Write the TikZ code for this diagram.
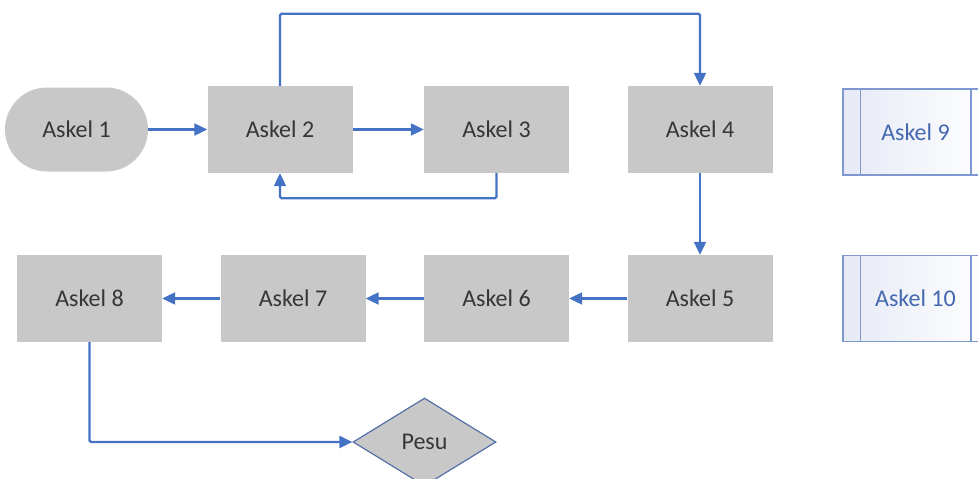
\documentclass[tikz,border=0pt]{standalone}
\usepackage{fontspec}
\setmainfont{Carlito}
\usetikzlibrary{arrows.meta,shapes.geometric}
\definecolor{boxgray}{HTML}{C8C8C8}
\definecolor{linkblue}{HTML}{4472C4}
\definecolor{txtgray}{HTML}{363636}
\definecolor{ppborder}{HTML}{7F98CF}
\definecolor{pptext}{HTML}{4468B0}
\definecolor{ppshade}{HTML}{E6EAF6}
\definecolor{dmborder}{HTML}{5470A8}
\tikzset{
  txtfont/.style={font=\fontsize{24}{28}\selectfont},
  stepbox/.style={rectangle, fill=boxgray, minimum width=145pt, minimum height=87pt, inner sep=0pt,
    text=txtgray, txtfont},
  startbox/.style={stepbox, minimum width=143pt, minimum height=84pt, rounded corners=42pt},
  ppbox/.style={rectangle, draw=ppborder, line width=1.5pt, shading=axis, shading angle=-60,
    left color=ppshade, right color=white,
    minimum width=145pt, minimum height=86pt, inner sep=0pt, text=pptext, txtfont},
  decision/.style={diamond, aspect=1.62, fill=boxgray, draw=dmborder, line width=1.2pt,
    minimum width=143pt, minimum height=88pt, inner sep=0pt, text=txtgray, txtfont},
  link/.style={draw=linkblue, line width=2.2pt, rounded corners=1.5pt,
    -{Triangle[length=13pt,width=12pt]}},
}
\begin{document}
\begin{tikzpicture}[x=1pt,y=-1pt]
\useasboundingbox (0,0) rectangle (978,479);
\clip (0,0) rectangle (978,479);
\node[startbox] (a1) at (76.5,129.5) {Askel 1};
\node[stepbox] (a2) at (280,129.5) {Askel 2};
\node[stepbox] (a3) at (496.5,129.5) {Askel 3};
\node[stepbox] (a4) at (700,129.5) {Askel 4};
\node[stepbox] (a5) at (700,298.5) {Askel 5};
\node[stepbox] (a6) at (496.5,298.5) {Askel 6};
\node[stepbox] (a7) at (293,298.5) {Askel 7};
\node[stepbox] (a8) at (89.5,298.5) {Askel 8};
\node[ppbox] (a9) at (915.5,132) {Askel 9};
\node[ppbox] (a10) at (915.5,298.5) {Askel 10};
\foreach \n in {a9,a10}{
  \draw[ppborder, line width=1.5pt] ([xshift=18pt]\n.north west) -- ([xshift=18pt]\n.south west);
  \draw[ppborder, line width=1.5pt] ([xshift=-18pt]\n.north east) -- ([xshift=-18pt]\n.south east);
}
\node[decision] (pesu) at (424.5,442) {Pesu};
\draw[link] (a1) -- (a2);
\draw[link] (a2) -- (a3);
\draw[link] (a2.north) -- ++(0,-72) -| (a4.north);
\draw[link] (a3.south) -- ++(0,25) -| (a2.south);
\draw[link] (a4) -- (a5);
\draw[link] (a5) -- (a6);
\draw[link] (a6) -- (a7);
\draw[link] (a7) -- (a8);
\draw[link] (a8.south) |- (pesu.west);
\end{tikzpicture}
\end{document}
